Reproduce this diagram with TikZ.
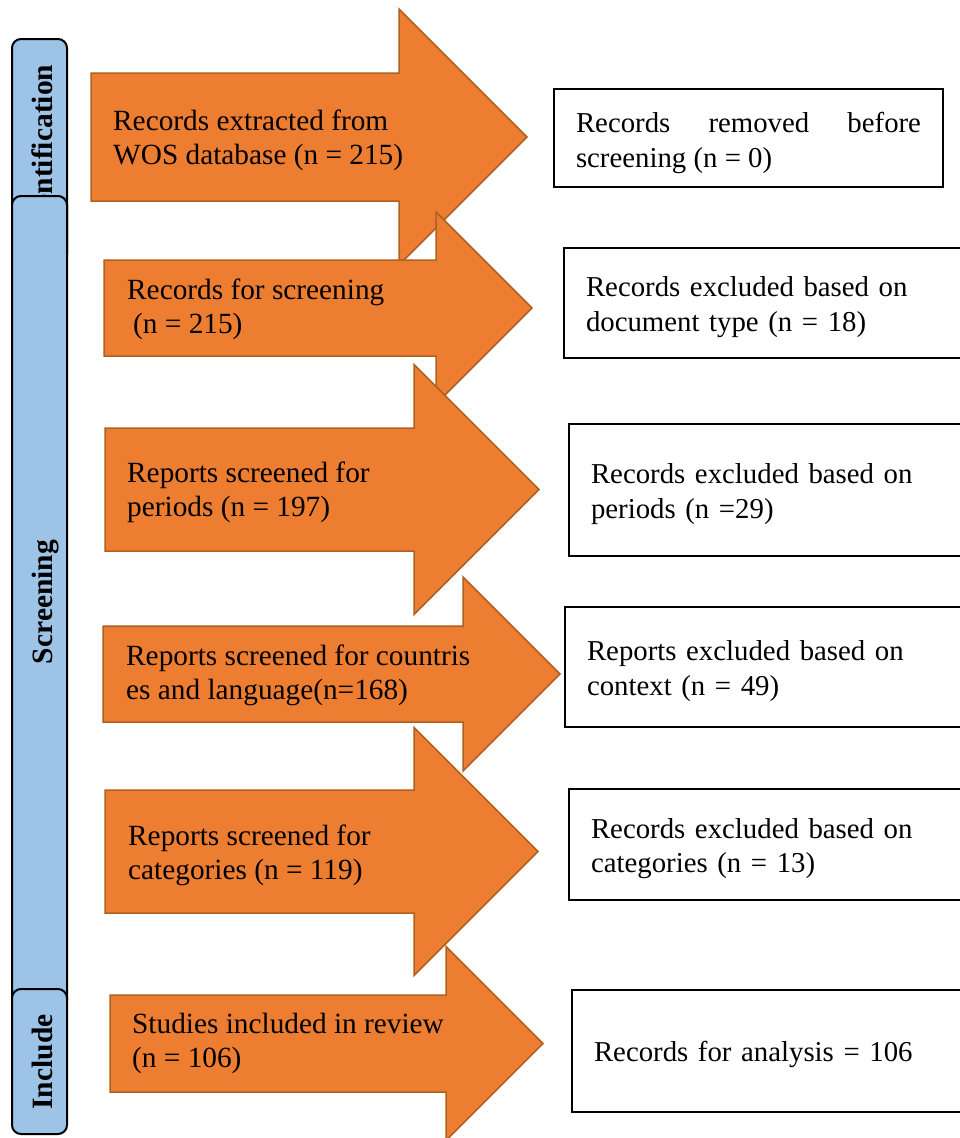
\documentclass[tikz,border=0pt]{standalone}
\usepackage{fontspec}
\setmainfont{Liberation Serif}
\usepackage{xcolor}
\usepackage{tikz}

\definecolor{arrowfill}{HTML}{ED7D31}
\definecolor{arrowedge}{HTML}{B0601F}
\definecolor{phasefill}{HTML}{9DC3E6}

% block arrow: left x, body top, body bottom, head x, half height of head
\newcommand{\flowarrow}[5]{%
  \draw[stage] (#1,#2) -- (#4,#2) -- (#4,{(#2+#3)/2-#5})
    -- ({#4+#5},{(#2+#3)/2}) -- (#4,{(#2+#3)/2+#5})
    -- (#4,#3) -- (#1,#3) -- cycle;}

\begin{document}
\begin{tikzpicture}[
    x=1pt, y=-1pt,
    font=\fontsize{29.3}{34}\selectfont,
    stage/.style={fill=arrowfill, draw=arrowedge, line width=1.5pt, line join=miter},
    stagetext/.style={anchor=base west, align=left, inner sep=0pt},
    phase/.style={rectangle, rounded corners=9pt, draw, line width=2pt, fill=phasefill, minimum width=55pt, anchor=north},
    phasetext/.style={rotate=90, anchor=base, font=\fontsize{29.5}{34}\selectfont\bfseries},
    excluded/.style={rectangle, draw, line width=2pt, anchor=north west, align=left, inner xsep=22pt, inner ysep=0pt, font=\fontsize{28.8}{34.5}\selectfont}
]
    \useasboundingbox (0,0) rectangle (959,1138);

    % Phase bars
    \node[phase, minimum height=224pt] (ident) at (39.5,38) {};
    \node[phasetext] (identlabel) at (52,150) {Identification};
    \node[phase, minimum height=813pt] (screen) at (39.5,195) {};
    \node[phasetext] (screenlabel) at (52,602) {Screening};
    \node[phase, minimum height=145pt] (incl) at (39.5,988) {};
    \node[phasetext] (incllabel) at (52,1062) {Include};

    % Stage arrows (text placed at its last baseline)
    \flowarrow{91}{73}{201}{399}{128}
    \node[stagetext] (extracted) at (113,164) {Records extracted from\\WOS database (n = 215)};
    \flowarrow{104}{260}{356}{436}{96}
    \node[stagetext] (forscreen) at (127,333) {Records for screening\\\hspace*{6pt}(n = 215)};
    \flowarrow{105}{428}{551}{414}{125}
    \node[stagetext] (periods) at (127,516) {Reports screened for\\periods (n = 197)};
    \flowarrow{103}{626}{722}{463}{97}
    \node[stagetext] (countries) at (126,699) {Reports screened for countris\\es and language(n=168)};
    \flowarrow{105}{790}{913}{414}{124}
    \node[stagetext] (categories) at (128,879) {Reports screened for\\categories (n = 119)};
    \flowarrow{110}{995}{1092}{446}{97}
    \node[stagetext] (included) at (132,1067) {Studies included in review\\(n = 106)};

    % Excluded records
    \node[excluded, align=justify, text width=345pt, minimum height=98pt] (removed) at (553,88) {\rule{0pt}{30pt}Records removed before\linebreak screening (n = 0)};
    \node[excluded, text width=355pt, minimum height=110pt] (doctype) at (563,247) {\rule{0pt}{28pt}Records excluded based on\\document type (n = 18)};
    \node[excluded, text width=350pt, minimum height=132pt] (experiods) at (568,423) {\rule{0pt}{28pt}Records excluded based on\\periods (n =29)};
    \node[excluded, text width=354pt, minimum height=120pt] (context) at (564,606) {\rule{0pt}{28pt}Reports excluded based on\\context (n = 49)};
    \node[excluded, text width=350pt, minimum height=111pt] (excategories) at (568,788) {\rule{0pt}{28pt}Records excluded based on\\categories (n = 13)};
    \node[excluded, text width=347pt, minimum height=122pt] (analysis) at (571,989) {\rule{0pt}{28pt}Records for analysis = 106};

\end{tikzpicture}
\end{document}
